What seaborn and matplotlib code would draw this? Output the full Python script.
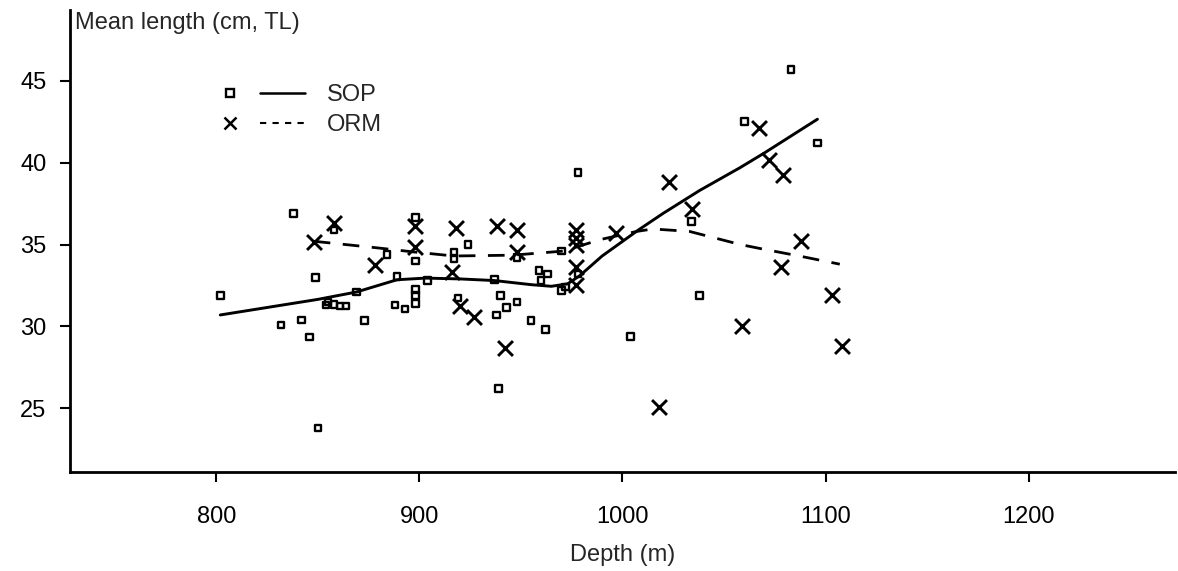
import numpy as np
import pandas as pd
import seaborn as sns
from matplotlib import pyplot as plt
from matplotlib.lines import Line2D
from matplotlib.legend_handler import HandlerTuple

# SOP samples (depth m, mean length cm)
sop_depth = [802, 832, 838, 842, 846, 849, 850, 854, 855, 858, 858, 861, 864,
             869, 873, 884, 888, 889, 893, 898, 898, 898, 898, 898, 904, 917,
             917, 919, 924, 937, 938, 939, 940, 943, 948, 948, 955, 959, 960,
             963, 962, 970, 970, 972, 978, 978, 1004, 1034, 1038, 1060, 1083, 1096]
sop_len = [31.9, 30.1, 36.9, 30.4, 29.35, 33.0, 23.8, 31.3, 31.5, 35.9, 31.35,
           31.25, 31.25, 32.1, 30.35, 34.4, 31.3, 33.05, 31.05, 36.65, 34.0,
           32.25, 31.9, 31.4, 32.8, 34.5, 34.15, 31.75, 35.0, 32.85, 30.7, 26.2,
           31.9, 31.15, 31.5, 34.2, 30.35, 33.4, 32.8, 33.2, 29.8, 34.6, 32.2,
           32.4, 33.2, 39.4, 29.4, 36.4, 31.9, 42.5, 45.7, 41.2]

# ORM samples
orm_depth = [848, 858, 878, 898, 898, 916, 918, 920, 927, 938, 942, 948, 948,
             977, 977, 977, 977, 977, 997, 1018, 1023, 1034, 1059, 1067, 1072,
             1079, 1078, 1088, 1103, 1108]
orm_len = [35.15, 36.3, 33.75, 36.15, 34.85, 33.35, 36.0, 31.25, 30.55, 36.15,
           28.7, 35.9, 34.55, 35.9, 35.4, 35.0, 33.6, 32.5, 35.7, 25.1, 38.8,
           37.15, 30.05, 42.1, 40.15, 39.25, 33.65, 35.2, 31.9, 28.8]

# smoothed trends
sop_fit_depth = [802, 850, 869, 889, 903, 920, 937, 955, 965, 973, 979, 990,
                 1008, 1020, 1038, 1058, 1070, 1096]
sop_fit_len = [30.7, 31.65, 32.1, 32.85, 32.95, 32.9, 32.8, 32.55, 32.45, 32.6,
               33.1, 34.3, 35.9, 36.9, 38.3, 39.7, 40.6, 42.65]
orm_fit_depth = [848, 879, 897, 917, 946, 971, 989, 1007, 1015, 1033, 1058,
                 1068, 1087, 1107]
orm_fit_len = [35.2, 34.8, 34.55, 34.3, 34.35, 34.6, 35.3, 35.8, 35.95, 35.8,
               35.0, 34.75, 34.3, 33.8]

sop = pd.DataFrame({'depth': sop_depth, 'length': sop_len})
orm = pd.DataFrame({'depth': orm_depth, 'length': orm_len})

sns.set_style('ticks')
plt.rcParams['font.family'] = ['Liberation Sans', 'DejaVu Sans']
fs = 17

fig = plt.figure(figsize=(11.78, 5.71), dpi=100)
ax = fig.add_axes([0.0594, 0.173, 0.938, 0.809])

sns.scatterplot(data=sop, x='depth', y='length', marker='s', s=22,
                facecolors='none', edgecolor='black', linewidth=1.7, ax=ax)
sns.scatterplot(data=orm, x='depth', y='length', marker='x', s=115,
                color='black', linewidth=2.1, ax=ax)
sns.lineplot(x=sop_fit_depth, y=sop_fit_len, color='black', lw=2.1, ax=ax)
sns.lineplot(x=orm_fit_depth, y=orm_fit_len, color='black', lw=2.0, ax=ax)
ax.lines[-1].set_linestyle((0, (6, 4.5)))

ax.set_xlim(728, 1272)
ax.set_ylim(21.1, 49.3)
ax.set_xticks([800, 900, 1000, 1100, 1200])
ax.set_yticks([25, 30, 35, 40, 45])
ax.tick_params(direction='out', length=7, width=1.5, labelsize=fs, colors='black')
ax.tick_params(axis='x', pad=17)
ax.tick_params(axis='y', pad=10)
sns.despine(ax=ax)
for s in ['left', 'bottom']:
    ax.spines[s].set_linewidth(2)
    ax.spines[s].set_color('black')

ax.set_xlabel('Depth (m)', fontsize=fs, labelpad=12)
ax.set_ylabel('')
ax.text(0.005, 0.972, 'Mean length (cm, TL)', transform=ax.transAxes,
        fontsize=fs, va='center', ha='left')

sq = Line2D([], [], marker='s', ls='none', mfc='none', mec='black', mew=1.7, ms=6)
solid = Line2D([], [], color='black', lw=1.8)
xm = Line2D([], [], marker='x', ls='none', color='black', mew=1.8, ms=9)
dash = Line2D([], [], color='black', lw=1.5, ls=(0, (3, 3)))
ax.legend([(sq, solid), (xm, dash)], ['SOP', 'ORM'],
          handler_map={tuple: HandlerTuple(ndivide=None, pad=0.3)},
          loc='upper left', bbox_to_anchor=(0.114, 0.865), frameon=False,
          fontsize=fs, handlelength=4.1, handletextpad=0.93, labelspacing=0.31,
          borderpad=0)

fig.savefig('out.png', dpi=100)
